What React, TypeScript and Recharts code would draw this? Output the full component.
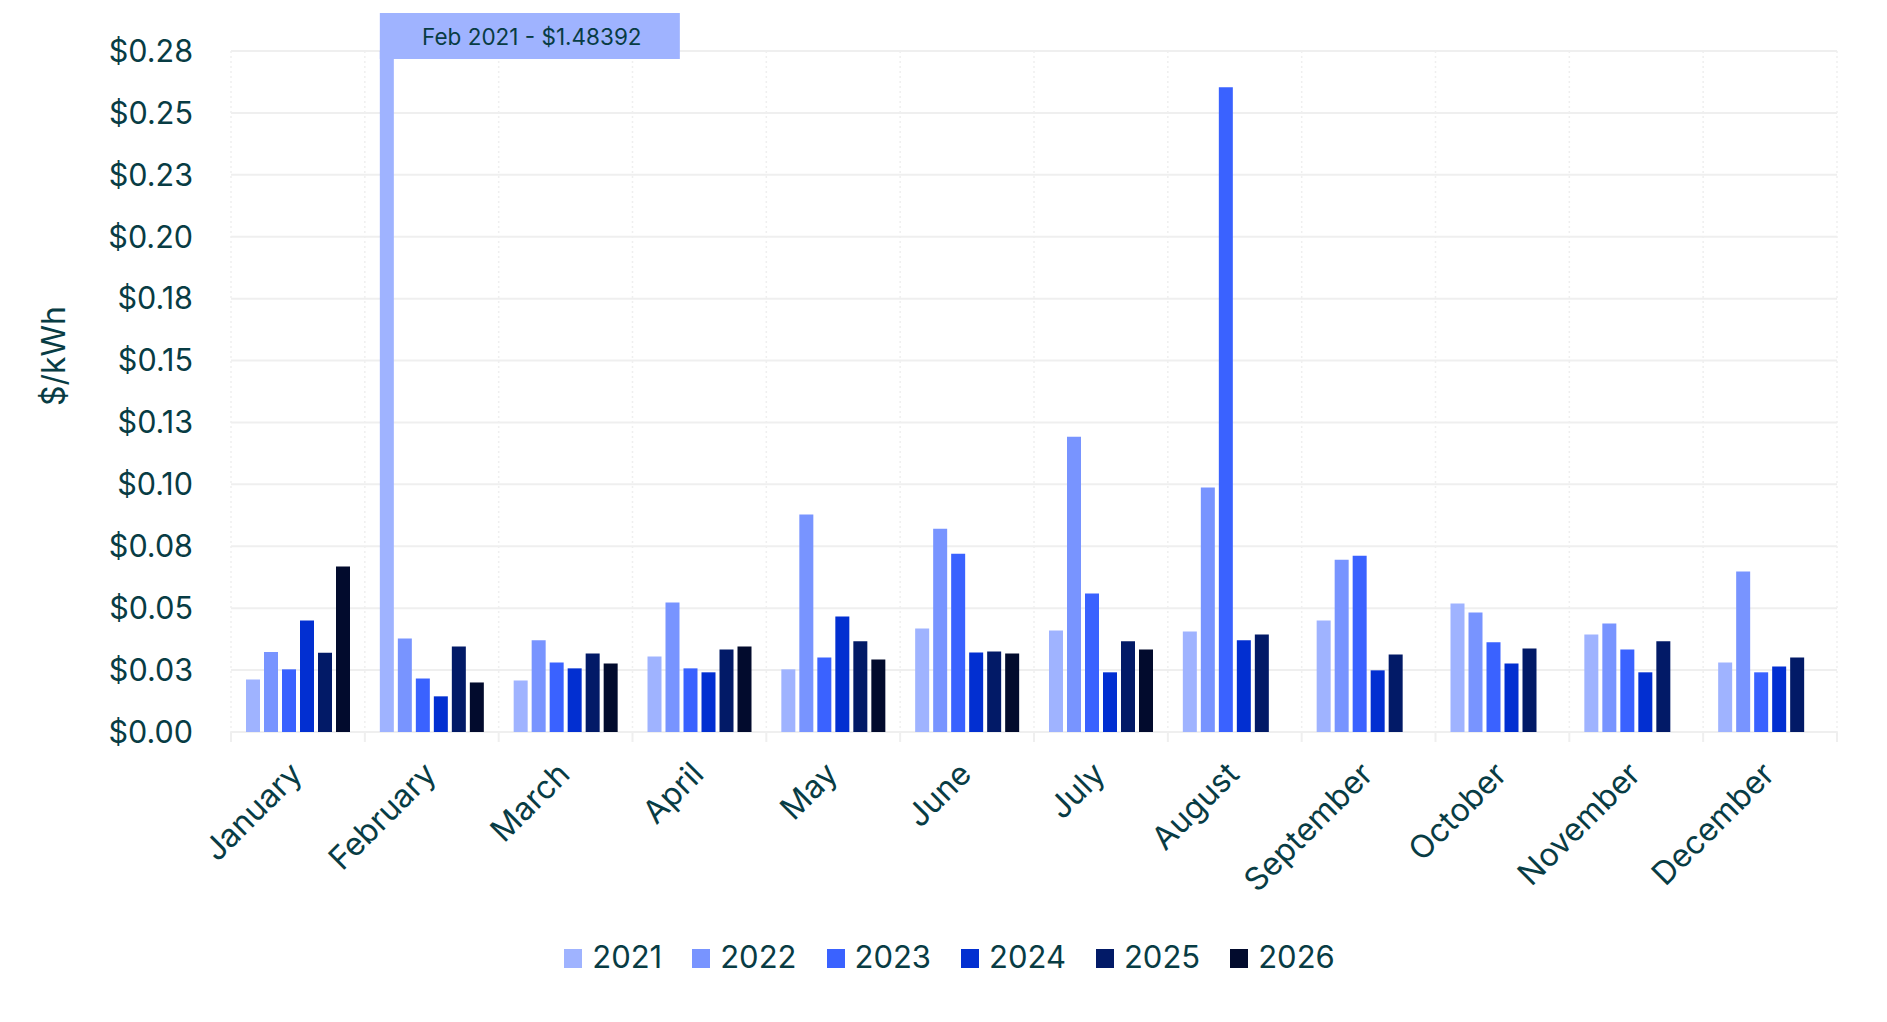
import React from "react";
import {
  BarChart,
  Bar,
  XAxis,
  YAxis,
  CartesianGrid,
  Legend,
  LabelList,
} from "recharts";

const MONTHS = [
  "January",
  "February",
  "March",
  "April",
  "May",
  "June",
  "July",
  "August",
  "September",
  "October",
  "November",
  "December",
];

const Y2021 = [0.0212, 1.48392, 0.0208, 0.0305, 0.0253, 0.0418, 0.041, 0.0406, 0.045, 0.0519, 0.0394, 0.0281];
const Y2022 = [0.0323, 0.0378, 0.037, 0.0523, 0.0878, 0.0821, 0.1192, 0.0987, 0.0696, 0.0483, 0.0438, 0.0648];
const Y2023 = [0.0253, 0.0216, 0.0281, 0.0257, 0.0301, 0.072, 0.0559, 0.2604, 0.0712, 0.0362, 0.0333, 0.0241];
const Y2024 = [0.045, 0.0144, 0.0257, 0.0241, 0.0466, 0.0321, 0.0241, 0.037, 0.0249, 0.0277, 0.0241, 0.0265];
const Y2025 = [0.032, 0.0345, 0.0317, 0.0333, 0.0366, 0.0325, 0.0366, 0.0394, 0.0313, 0.0337, 0.0366, 0.0301];
const Y2026 = [0.0668, 0.02, 0.0277, 0.0345, 0.0293, 0.0317, 0.0333, null, null, null, null, null];

const YEARS = ["2021", "2022", "2023", "2024", "2025", "2026"];
const SERIES = [Y2021, Y2022, Y2023, Y2024, Y2025, Y2026];
const COLORS = ["#9fb3ff", "#7894ff", "#3a62ff", "#022fd1", "#021a67", "#020b2d"];

const Y_TICKS = [0, 0.025, 0.05, 0.075, 0.1, 0.125, 0.15, 0.175, 0.2, 0.225, 0.25, 0.275];
const Y_TICK_LABELS = ["$0.00", "$0.03", "$0.05", "$0.08", "$0.10", "$0.13", "$0.15", "$0.18", "$0.20", "$0.23", "$0.25", "$0.28"];

const OVERFLOW_NOTE = "Feb 2021 - $1.48392";

const W = 1887;
const H = 1022;
const MARGIN = { top: 51, right: 50, left: 0, bottom: 90 };
const Y_AXIS_W = 231;
const X_AXIS_H = 200;
const BAND = (W - MARGIN.left - MARGIN.right - Y_AXIS_W) / MONTHS.length;

const TEXT = "#083c44";
const GRID = "#efefef";
const FONT = "Inter, 'Noto Sans', sans-serif";

const data = MONTHS.map((month, i) => {
  const row: Record<string, string | number | null> = { month };
  YEARS.forEach((y, k) => {
    row[y] = SERIES[k][i];
  });
  return row;
});

function MonthTick(props: any) {
  const { x, y, payload, index } = props;
  const left = x - BAND / 2;
  const ax = x - 2;
  const ay = y + 36;
  return (
    <g>
      <line x1={left} x2={left} y1={y} y2={y + 10} stroke={GRID} strokeWidth={2} />
      {index === MONTHS.length - 1 && (
        <line x1={x + BAND / 2} x2={x + BAND / 2} y1={y} y2={y + 10} stroke={GRID} strokeWidth={2} />
      )}
      <text
        x={ax}
        y={ay}
        textAnchor="end"
        dominantBaseline="central"
        transform={`rotate(-45, ${ax}, ${ay})`}
        fontSize={32}
        fill={TEXT}
        fontFamily={FONT}
      >
        {payload.value}
      </text>
    </g>
  );
}

function OverflowLabel(props: any) {
  const { x, value } = props;
  if (value !== Y2021[1]) return null;
  return (
    <g>
      <rect x={x} y={13} width={300} height={46} fill={COLORS[0]} />
      <text
        x={x + 152}
        y={36}
        textAnchor="middle"
        dominantBaseline="central"
        fontSize={22.5}
        fill={TEXT}
        fontFamily={FONT}
      >
        {OVERFLOW_NOTE}
      </text>
    </g>
  );
}

function LegendContent() {
  return (
    <div
      style={{
        display: "flex",
        justifyContent: "center",
        alignItems: "baseline",
        fontFamily: FONT,
      }}
    >
      {YEARS.map((y, k) => (
        <div
          key={y}
          style={{ display: "flex", alignItems: "baseline", marginRight: k < YEARS.length - 1 ? 30 : 0 }}
        >
          <div style={{ width: 18, height: 19, background: COLORS[k], marginRight: 10 }} />
          <span style={{ fontSize: 31, color: TEXT, lineHeight: "36px" }}>{y}</span>
        </div>
      ))}
    </div>
  );
}

export default function App() {
  return (
    <div
      style={{
        position: "absolute",
        left: 0,
        top: 0,
        width: W,
        height: H,
        background: "#fff",
        fontFamily: FONT,
      }}
    >
      <BarChart width={W} height={H} data={data} margin={MARGIN} barGap={4}>
        <CartesianGrid vertical={false} stroke={GRID} strokeWidth={2} />
        <CartesianGrid
          horizontal={false}
          stroke={GRID}
          strokeWidth={1.5}
          strokeDasharray="2 3"
          verticalCoordinatesGenerator={({ offset }: any) =>
            MONTHS.map((_, i) => offset.left + i * BAND).concat(offset.left + offset.width)
          }
        />
        <XAxis
          dataKey="month"
          height={X_AXIS_H}
          axisLine={false}
          tickLine={false}
          tickSize={0}
          tickMargin={0}
          interval={0}
          tick={<MonthTick />}
        />
        <YAxis
          width={Y_AXIS_W}
          domain={[0, 0.275]}
          ticks={Y_TICKS}
          allowDataOverflow
          axisLine={false}
          tickLine={false}
          tickSize={0}
          tickMargin={38}
          tickFormatter={(v: number) => Y_TICK_LABELS[Y_TICKS.indexOf(v)]}
          tick={{ fontSize: 30.5, fill: TEXT, fontFamily: FONT }}
          label={() => (
            <text
              x={53}
              y={356}
              transform="rotate(-90, 53, 356)"
              textAnchor="middle"
              dominantBaseline="central"
              fontSize={32}
              fill={TEXT}
              fontFamily={FONT}
            >
              $/kWh
            </text>
          )}
        />
        <Legend
          verticalAlign="middle"
          align="center"
          layout="horizontal"
          content={<LegendContent />}
          wrapperStyle={{ position: "absolute", top: 939, left: 6, width: W, height: 40 }}
        />
        {YEARS.map((y, k) => (
          <Bar key={y} dataKey={y} fill={COLORS[k]} barSize={14} isAnimationActive={false}>
            {k === 0 && <LabelList dataKey={y} content={<OverflowLabel />} />}
          </Bar>
        ))}
      </BarChart>
    </div>
  );
}
